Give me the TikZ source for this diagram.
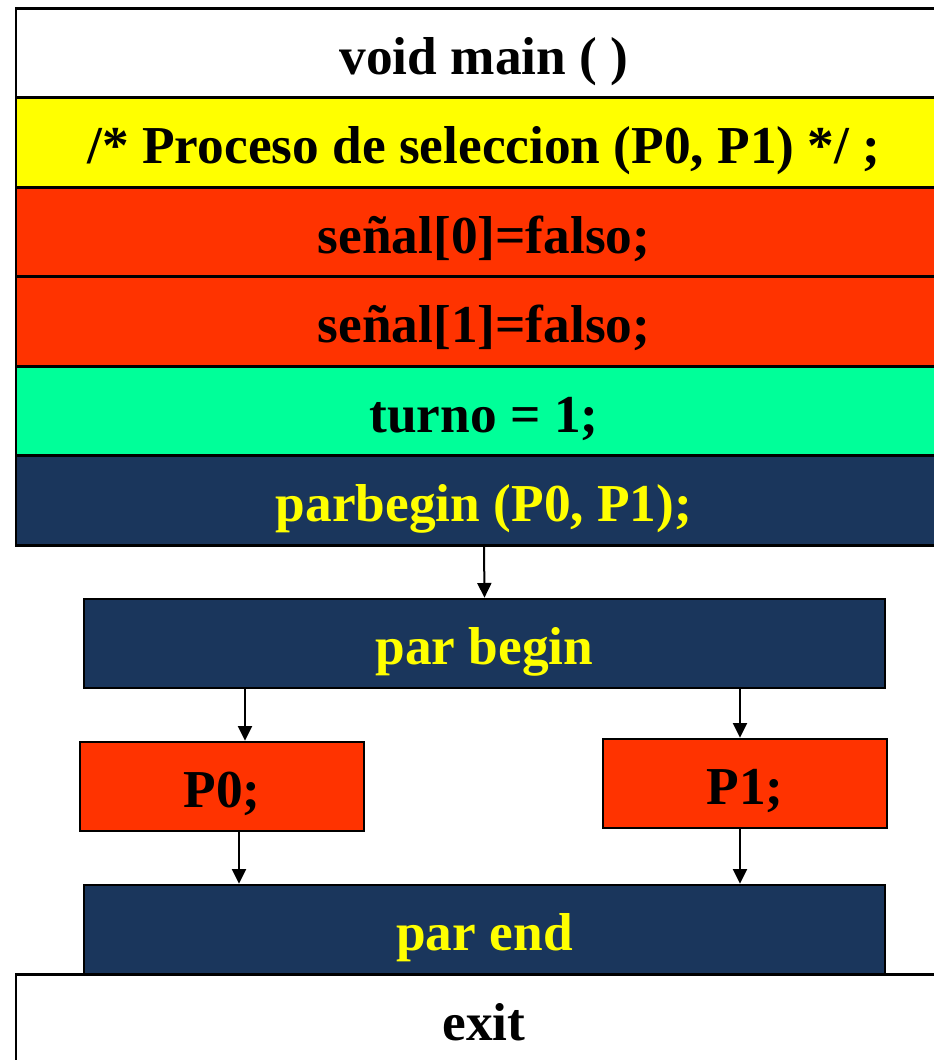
\documentclass[tikz,border=0pt]{standalone}
\usepackage{fontspec}
\setmainfont{Liberation Serif}
\usetikzlibrary{arrows.meta}

\definecolor{amarillo}{HTML}{FFFF00}
\definecolor{rojo}{HTML}{FF3300}
\definecolor{verde}{HTML}{00FF99}
\definecolor{marino}{HTML}{1A365C}

\tikzset{
  texto/.style={inner sep=0pt, text height=31.5pt, text depth=0pt,
    font=\bfseries\fontsize{40}{40}\selectfont},
  fila/.style={draw, line width=2pt, minimum width=702pt, minimum height=67.1pt, texto},
  bloque/.style={draw, line width=2pt, minimum width=600.75pt, minimum height=66.75pt, texto,
    fill=marino, text=amarillo},
  proc/.style={draw, line width=2pt, minimum width=213pt, minimum height=66.75pt, texto,
    fill=rojo},
  flecha/.style={line width=1.5pt, -{Triangle[length=11pt, width=10.5pt]}}
}

\begin{document}
\begin{tikzpicture}[x=0.75pt, y=-0.75pt]

\path[use as bounding box, clip] (0,0) rectangle (934,1060);
\fill[white] (0,0) rectangle (934,1060);

% programa principal
\node[fila, fill=white] (main) at (484,53) {void main ( )};
\node[fila, fill=amarillo] (sel) at (484,142.5) {/* Proceso de seleccion (P0, P1) */ ;};
\node[fila, fill=rojo] (s0) at (484,232) {señal[0]=falso;};
\node[fila, fill=rojo] (s1) at (484,321.5) {señal[1]=falso;};
\node[fila, fill=verde] (turno) at (484,411) {turno = 1;};
\node[fila, fill=marino, text=amarillo] (parb) at (484,500.5) {parbegin (P0, P1);};

% ejecucion concurrente
\node[bloque] (pbegin) at (484.5,643.5) {par begin};
\node[proc] (p0) at (222,786.5) {P0;};
\node[proc] (p1) at (745,783.5) {P1;};
\node[bloque] (pend) at (484.5,929.5) {par end};
\node[fila, fill=white] (exit) at (484,1019) {exit};

\coordinate (a0) at (245,0);
\coordinate (b0) at (239,0);
\coordinate (a1) at (740,0);

\draw[flecha] (parb.south) -- (pbegin.north);
\draw[flecha] (pbegin.south -| a0) -- (p0.north -| a0);
\draw[flecha] (pbegin.south -| a1) -- (p1.north -| a1);
\draw[flecha] (p0.south -| b0) -- (pend.north -| b0);
\draw[flecha] (p1.south -| a1) -- (pend.north -| a1);

\end{tikzpicture}
\end{document}
